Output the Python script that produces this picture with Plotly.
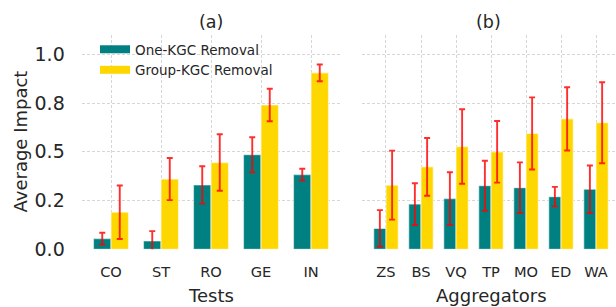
import plotly.graph_objects as go

# ---- data ----
tests = ["CO", "ST", "RO", "GE", "IN"]
one_tests = [0.055, 0.043, 0.33, 0.485, 0.383]
one_tests_err = [0.03, 0.05, 0.096, 0.09, 0.03]
group_tests = [0.19, 0.36, 0.445, 0.74, 0.905]
group_tests_err = [0.137, 0.108, 0.145, 0.083, 0.043]

aggregators = ["ZS", "BS", "VQ", "TP", "MO", "ED", "WA"]
one_aggs = [0.107, 0.232, 0.26, 0.326, 0.316, 0.27, 0.308]
one_aggs_err = [0.094, 0.107, 0.135, 0.128, 0.13, 0.05, 0.122]
group_aggs = [0.329, 0.423, 0.527, 0.5, 0.594, 0.669, 0.649]
group_aggs_err = [0.177, 0.148, 0.191, 0.158, 0.185, 0.162, 0.208]

series_names = ["One-KGC Removal", "Group-KGC Removal"]
yticks = [0.0, 0.25, 0.5, 0.75, 1.0]
ytick_text = ["0.0", "0.2", "0.5", "0.8", "1.0"]

TEAL = "#008080"
GOLD = "#FFD700"
ERR = "rgba(255,0,0,0.82)"
EDGE = dict(color="rgba(255,255,255,0.55)", width=1.2)
TXT = "#262626"
GRID = "#d6d6d6"
FONT = "DejaVu Sans"

fig = go.Figure()

def add_bars(cats, vals, errs, color, xa, name):
    fig.add_trace(go.Bar(
        x=cats, y=vals, name=name, showlegend=False, xaxis=xa, yaxis="y" if xa == "x" else "y2",
        marker=dict(color=color, line=EDGE),
        error_y=dict(type="data", array=errs, visible=True, color=ERR, thickness=1.9, width=3),
    ))

add_bars(tests, one_tests, one_tests_err, TEAL, "x", series_names[0])
add_bars(tests, group_tests, group_tests_err, GOLD, "x", series_names[1])
add_bars(aggregators, one_aggs, one_aggs_err, TEAL, "x2", series_names[0])
add_bars(aggregators, group_aggs, group_aggs_err, GOLD, "x2", series_names[1])

# legend entries (wide flat swatches)
for nm, col in zip(series_names, [TEAL, GOLD]):
    fig.add_trace(go.Scatter(x=[None], y=[None], mode="lines", name=nm,
                             line=dict(color=col, width=8), xaxis="x", yaxis="y"))

W, H = 616, 307
ydom = [1 - 249.3 / H, 1 - 34.8 / H]

grid_common = dict(showgrid=True, gridcolor=GRID, griddash="3px,2px", gridwidth=1,
                   zeroline=False, showline=False, ticks="", automargin=False)

fig.update_layout(
    width=W, height=H, autosize=False,
    margin=dict(l=0, r=0, t=0, b=0, pad=0, autoexpand=False),
    paper_bgcolor="white", plot_bgcolor="white",
    barmode="group", bargap=0.3, bargroupgap=0.0,
    font=dict(family=FONT, color=TXT),
    showlegend=True,
    legend=dict(x=95 / W, y=1 - 34 / H, xanchor="left", yanchor="top",
                bgcolor="rgba(255,255,255,0)", borderwidth=0,
                font=dict(size=13.5, family=FONT, color=TXT), tracegroupgap=0),
    xaxis=dict(domain=[81.75 / W, 340.25 / W], range=[-0.585, 4.585], type="category",
               tickfont=dict(size=14.6), ticklabelstandoff=12, anchor="y", **grid_common),
    xaxis2=dict(domain=[361.7 / W, 1.0], range=[-0.694, 6.571], type="category",
                tickfont=dict(size=14.6), ticklabelstandoff=12, anchor="y2", **grid_common),
    yaxis=dict(domain=ydom, range=[0, 1.1], tickvals=yticks, ticktext=ytick_text,
               tickfont=dict(size=19), ticklabelstandoff=16, anchor="x", **grid_common),
    yaxis2=dict(domain=ydom, range=[0, 1.1], tickvals=yticks, showticklabels=False,
                anchor="x2", matches="y", **grid_common),
    annotations=[
        dict(text="(a)", x=211 / W, y=1 - 21.5 / H, xref="paper", yref="paper",
             showarrow=False, font=dict(size=17.5), xanchor="center", yanchor="middle"),
        dict(text="(b)", x=489 / W, y=1 - 21.5 / H, xref="paper", yref="paper",
             showarrow=False, font=dict(size=17.5), xanchor="center", yanchor="middle"),
        dict(text="Tests", x=211 / W, y=1 - 295 / H, xref="paper", yref="paper",
             showarrow=False, font=dict(size=18), xanchor="center", yanchor="middle"),
        dict(text="Aggregators", x=491 / W, y=1 - 295 / H, xref="paper", yref="paper",
             showarrow=False, font=dict(size=18), xanchor="center", yanchor="middle"),
        dict(text="Average Impact", x=19.5 / W, y=1 - 142 / H, xref="paper", yref="paper",
             showarrow=False, font=dict(size=18), textangle=-90,
             xanchor="center", yanchor="middle"),
    ],
)

fig.write_html(
    "out.html",
    config={"displayModeBar": False},
    post_script="document.body.style.margin='0';document.body.style.overflow='hidden';",
)
